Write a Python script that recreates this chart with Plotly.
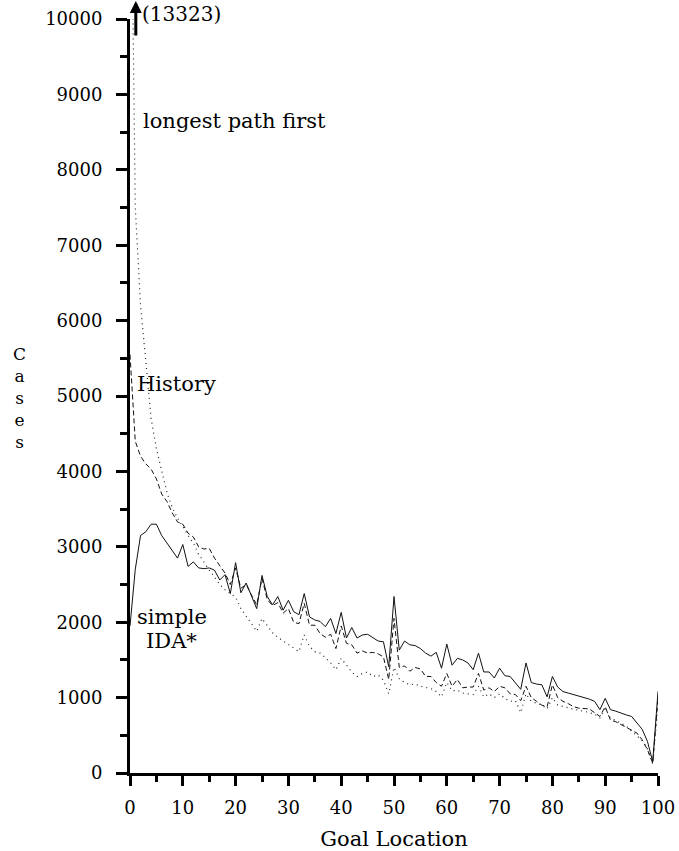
import plotly.graph_objects as go

goal = list(range(0, 101))

simple_ida = [1950, 2700, 3150, 3200, 3300, 3300, 3150, 3050, 2950, 2850, 3030,
              2740, 2800, 2720, 2710, 2720, 2690, 2560, 2630, 2380, 2790,
              2390, 2520, 2340, 2180, 2620, 2340, 2230, 2340, 2160, 2290,
              2140, 2100, 2380, 2070, 2030, 2010, 1940, 2050, 1850, 2130,
              1790, 1930, 1790, 1830, 1840, 1790, 1750, 1740, 1410, 2340,
              1630, 1750, 1700, 1690, 1650, 1590, 1550, 1600, 1390, 1710,
              1430, 1520, 1500, 1460, 1370, 1590, 1340, 1340, 1260, 1390,
              1290, 1280, 1190, 1110, 1460, 1200, 1180, 1170, 1010, 1280,
              1140, 1080, 1060, 1040, 1020, 1000, 980, 950, 840, 990,
              840, 820, 790, 770, 750, 670, 580, 420, 150, 1080]

history = [5550, 4400, 4200, 4100, 4030, 3900, 3700, 3600, 3450, 3330, 3300,
           3180, 3130, 3000, 2970, 2980, 2850, 2750, 2650, 2500, 2720,
           2450, 2500, 2360, 2230, 2580, 2300, 2220, 2260, 2120, 2180,
           2000, 1980, 2250, 1960, 1960, 1850, 1800, 1840, 1650, 1950,
           1720, 1700, 1590, 1620, 1590, 1600, 1580, 1540, 1240, 2050,
           1400, 1420, 1350, 1400, 1380, 1280, 1280, 1200, 1150, 1320,
           1150, 1240, 1130, 1140, 1140, 1320, 1100, 1130, 1080, 1150,
           1130, 1050, 1040, 960, 1150, 1000, 950, 900, 880, 1170,
           1000, 950, 920, 880, 860, 860, 850, 800, 750, 880,
           700, 680, 640, 600, 560, 530, 440, 310, 130, 1000]

longest_first = [13323, 7500, 6200, 5400, 4700, 4300, 4000, 3720, 3520, 3380, 3270,
                 3150, 3050, 2900, 2800, 2690, 2600, 2500, 2430, 2380, 2330,
                 2180, 2080, 1980, 1880, 2050, 1950, 1860, 1800, 1750, 1700,
                 1650, 1610, 1830, 1680, 1610, 1590, 1530, 1460, 1370, 1520,
                 1430, 1340, 1280, 1320, 1340, 1280, 1300, 1230, 1050, 1400,
                 1250, 1200, 1170, 1180, 1150, 1130, 1120, 1080, 1010, 1200,
                 1090, 1100, 1060, 1050, 1040, 1150, 1010, 1050, 1000, 1050,
                 990, 950, 960, 800, 1050, 950, 920, 900, 850, 1000,
                 900, 880, 860, 850, 830, 820, 800, 780, 730, 850,
                 730, 700, 660, 620, 560, 500, 430, 320, 120, 900]

x_ticks = list(range(0, 101, 10))
x_ticktext = [str(v) for v in x_ticks]
y_ticks = list(range(0, 10001, 1000))
y_ticktext = [str(v) for v in y_ticks]

FONT = "DejaVu Serif"

fig = go.Figure()
fig.add_trace(go.Scatter(x=goal, y=simple_ida, mode="lines", name="simple IDA*",
                         line=dict(color="#111111", width=1)))
fig.add_trace(go.Scatter(x=goal, y=history, mode="lines", name="History",
                         line=dict(color="#111111", width=1, dash="5px,3px")))
fig.add_trace(go.Scatter(x=goal, y=longest_first, mode="lines", name="longest path first",
                         line=dict(color="#222222", width=1.2, dash="1px,4px")))

fig.update_layout(
    width=679, height=851,
    margin=dict(l=130, r=21, t=19, b=78, autoexpand=False),
    paper_bgcolor="white", plot_bgcolor="white",
    showlegend=False,
    font=dict(family=FONT, size=18, color="black"),
    xaxis=dict(range=[0, 100], tickmode="array", tickvals=x_ticks, ticktext=x_ticktext,
               ticks="outside", ticklen=10, tickwidth=3, automargin=False,
               tickcolor="black", showline=True, linewidth=3, linecolor="black",
               showgrid=False, zeroline=False, ticklabelstandoff=6,
               minor=dict(dtick=5, ticks="outside", ticklen=6, tickwidth=3, tickcolor="black"),
               title=dict(text="Goal Location", standoff=24, font=dict(size=21))),
    yaxis=dict(range=[0, 10000], tickmode="array", tickvals=y_ticks, ticktext=y_ticktext,
               ticks="outside", ticklen=11, tickwidth=3, automargin=False,
               tickcolor="black", showline=True, linewidth=3, linecolor="black",
               showgrid=False, zeroline=False, ticklabelstandoff=10,
               minor=dict(dtick=500, ticks="outside", ticklen=7, tickwidth=3, tickcolor="black")),
)

# Off-scale arrow for the first "longest path first" value
fig.add_annotation(x=1.1, y=1.0252, xref="x", yref="paper", text="", showarrow=True,
                   ax=0, ay=37, arrowhead=2, arrowsize=0.8, arrowwidth=3, arrowcolor="black")
fig.add_annotation(x=1.9, y=1.0252, xref="x", yref="paper", text="(%d)" % longest_first[0],
                   showarrow=False, xanchor="left", yanchor="top", font=dict(size=20))

labels = [("longest path first", 2.1, 8650), ("History", 1.0, 5160),
          ("simple", 1.0, 2070), ("IDA*", 2.7, 1750)]
for txt, lx, ly in labels:
    fig.add_annotation(x=lx, y=ly, xref="x", yref="y", text=txt, showarrow=False,
                       xanchor="left", yanchor="middle", font=dict(size=21))

# Vertical stacked axis title
fig.add_annotation(xref="paper", yref="paper", x=(19 - 130) / 528.0,
                   y=(773 - 398) / 754.0, text="<br>".join("Cases"), showarrow=False,
                   align="center", xanchor="center", yanchor="middle", font=dict(size=17))

fig.write_html("out.html", config={"displayModeBar": False},
               post_script="document.body.style.margin='0px';")
